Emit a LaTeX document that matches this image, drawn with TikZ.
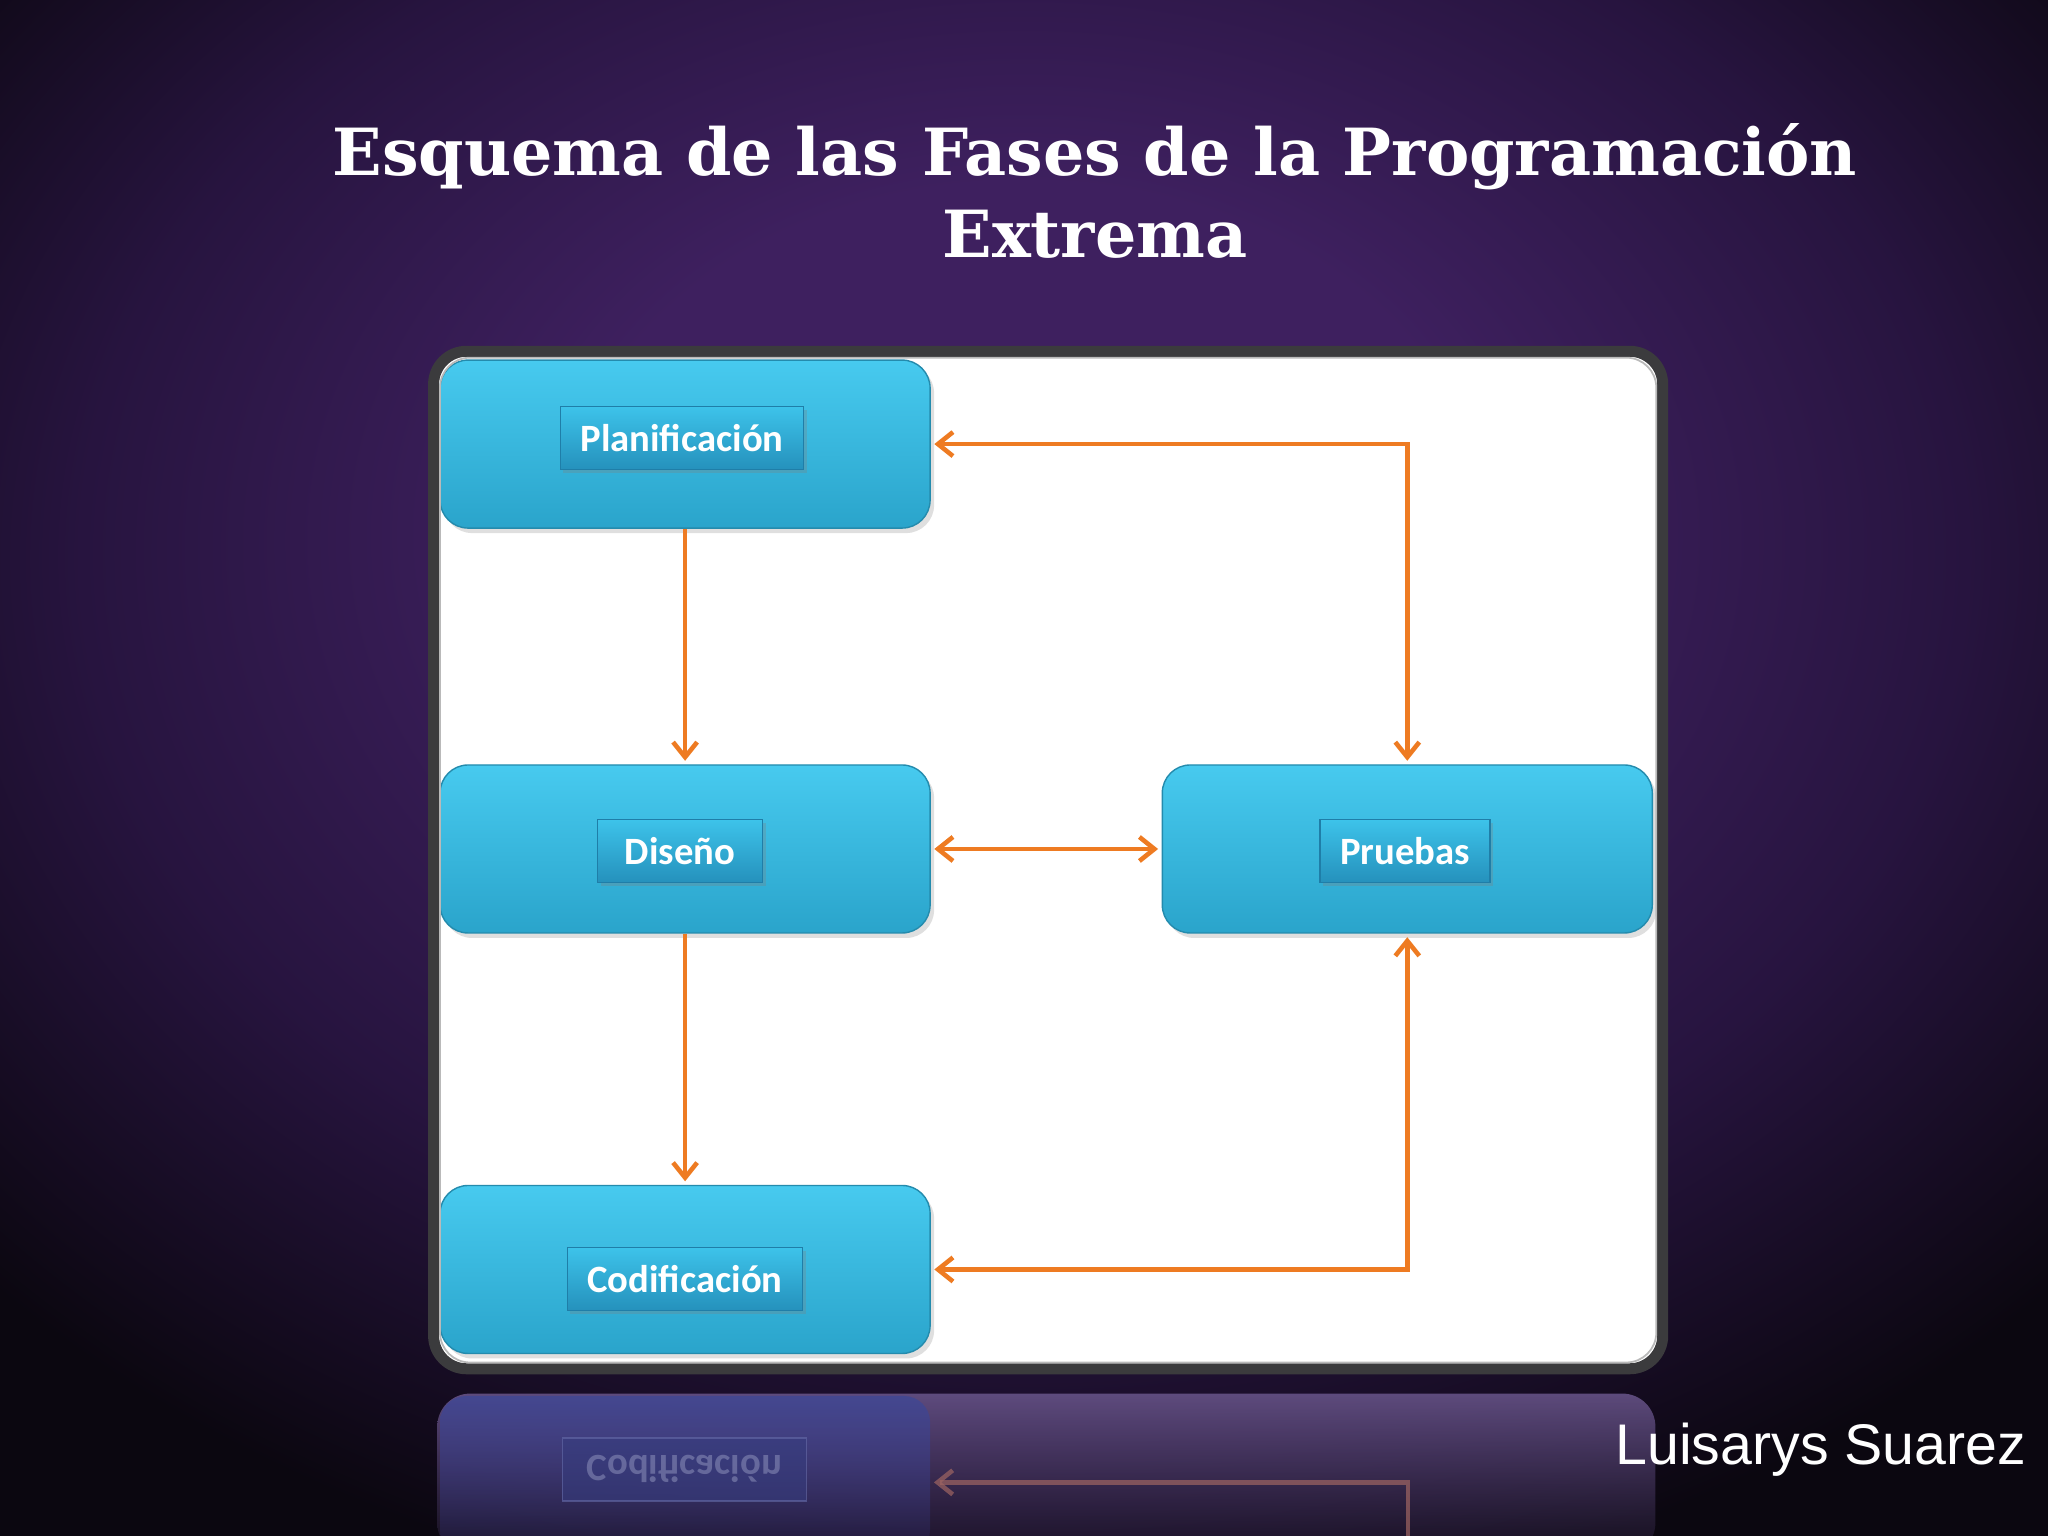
\documentclass[tikz,border=0pt]{standalone}
\usepackage{fontspec}
\newfontfamily\titlefont{DejaVu Serif}
\newfontfamily\boxfont{Carlito}
\newfontfamily\namefont{Liberation Sans}
\usetikzlibrary{arrows.meta,shadows,fadings}

\definecolor{glow}{HTML}{3E205F}
\definecolor{dusk}{HTML}{27143F}
\definecolor{night}{HTML}{0B0710}
\definecolor{skytop}{HTML}{47CAEF}
\definecolor{skybot}{HTML}{2AA4CB}
\definecolor{tagtop}{HTML}{3DC3EA}
\definecolor{tagbot}{HTML}{2591BC}
\definecolor{tagedge}{HTML}{1F7EA8}
\definecolor{naranja}{HTML}{EE7B22}
\definecolor{rim}{HTML}{3B3B3D}
\definecolor{reflmor}{HTML}{6A568C}
\definecolor{reflmorb}{HTML}{4E3C6E}
\definecolor{reflazul}{HTML}{404794}
\definecolor{reflazulb}{HTML}{36357E}

\pgfdeclareradialshading{bgglow}{\pgfpoint{0bp}{9bp}}{color(0bp)=(glow); color(11bp)=(glow); color(23bp)=(dusk); color(34bp)=(night); color(100bp)=(night)}
\tikzfading[name=reflfade, top color=transparent!15, bottom color=transparent!85]

\begin{document}
\begin{tikzpicture}[
    fase/.style={rounded corners=0.28cm, minimum width=4.9cm, minimum height=1.68cm,
      top color=skytop, bottom color=skybot, draw=skybot!85!black, line width=0.4pt,
      drop shadow={opacity=0.25, shadow xshift=0.04cm, shadow yshift=-0.05cm}},
    etiqueta/.style={font=\boxfont\bfseries\fontsize{11}{13}\selectfont, text=white,
      top color=tagtop, bottom color=tagbot, draw=tagedge, line width=0.5pt,
      minimum width=1.65cm, minimum height=0.63cm, inner xsep=0.2cm,
      drop shadow={opacity=0.3, shadow xshift=0.03cm, shadow yshift=-0.04cm}},
    flecha/.style={draw=naranja, line width=1.3pt, shorten >=1pt,
      -{Straight Barb[length=0.15cm, width=0.24cm]}},
    doble/.style={draw=naranja, line width=1.3pt, shorten >=1pt, shorten <=1pt,
      {Straight Barb[length=0.15cm, width=0.24cm]}-{Straight Barb[length=0.15cm, width=0.24cm]}},
    reflflecha/.style={draw=naranja!40!reflmor, line width=1.3pt,
      -{Straight Barb[length=0.15cm, width=0.24cm]}}
  ]
  \useasboundingbox (0,0) rectangle (20.48,15.36);
  \shade[shading=bgglow] (0,0) rectangle (20.48,15.36);

  % titulo
  \node[align=center, text=white, font=\titlefont\bfseries\fontsize{18.5}{23.3}\selectfont]
    (titulo) at (10.95,13.45) {Esquema de las Fases de la Programación\\Extrema};

  % reflejo bajo el marco
  \begin{scope}
    \clip (0,0) rectangle (20.48,15.36);
    \shade[top color=reflmor, bottom color=reflmorb, rounded corners=0.33cm, path fading=reflfade]
      (4.375,-0.2) rectangle (16.561,1.424);
    \shade[top color=reflazul, bottom color=reflazulb, rounded corners=0.26cm, path fading=reflfade]
      (4.40,-0.2) rectangle (9.30,1.40);
    \coordinate (rpie) at (14.08,0);
    \coordinate (resq) at (14.08,0.536);
    \coordinate (rfin) at (9.34,0.536);
    \draw[reflflecha, opacity=0.7] (rpie) -- (resq) -- (rfin);
    \begin{scope}[shift={(6.844,0.666)}, yscale=-1, transform shape]
      \node[font=\boxfont\bfseries\fontsize{11}{13}\selectfont, text=reflazul!50!white,
        fill=reflazul!85!black, draw=reflazul!80!white, line width=0.5pt,
        minimum width=2.44cm, minimum height=0.63cm, opacity=0.6, text opacity=0.45]
        (corefl) at (0,0) {Codificación};
    \end{scope}
  \end{scope}

  % marco
  \fill[white, rounded corners=0.33cm] (4.336,1.672) rectangle (16.627,11.847);

  % fases
  \node[fase] (pl) at (6.851,10.919) {};
  \node[fase] (di) at (6.851,6.870) {};
  \node[fase] (co) at (6.851,2.665) {};
  \node[fase] (pr) at (14.073,6.870) {};

  \node[etiqueta] (plt) at (6.82,10.98) {Planificación};
  \node[etiqueta] (dit) at (6.80,6.85) {Diseño};
  \node[etiqueta] (cot) at (6.85,2.57) {Codificación};
  \node[etiqueta] (prt) at (14.05,6.85) {Pruebas};

  \draw[rim, line width=0.11cm, rounded corners=0.33cm] (4.336,1.672) rectangle (16.627,11.847);
  \draw[gray!55, line width=0.5pt, rounded corners=0.3cm] (4.40,1.735) rectangle (16.563,11.783);

  % flechas
  \draw[flecha] (pl.south) -- (di.north);
  \draw[flecha] (di.south) -- (co.north);
  \draw[doble] (di.east) -- (pr.west);
  \draw[doble] (pr.north) |- (pl.east);
  \draw[doble] (pr.south) |- (co.east);

  \node[anchor=base east, inner sep=0pt, text=white, font=\namefont\fontsize{16.3}{19}\selectfont]
    (autor) at (20.27,0.71) {Luisarys Suarez};
\end{tikzpicture}
\end{document}
